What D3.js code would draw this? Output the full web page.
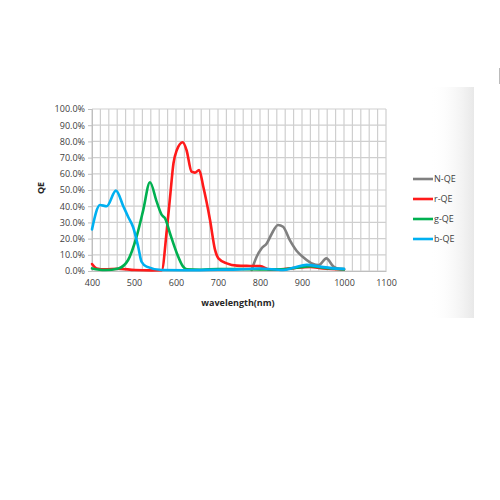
<!DOCTYPE html>
<html><head><meta charset="utf-8">
<script src="https://cdn.jsdelivr.net/npm/d3@7"></script>
<style>body{margin:0;background:#fff}svg{display:block}</style>
</head><body>
<svg id="c" width="500" height="500"></svg>
<script>
const seriesNames = ["N-QE","r-QE","g-QE","b-QE"];
const seriesColors = ["#808080","#ff1a1a","#00b050","#00b0f0"];
const xTicks = [400,500,600,700,800,900,1000,1100];
const yTicks = [0,10,20,30,40,50,60,70,80,90,100];

const nWl = [780,792,804,816,828,843,855,871,887,903,925,940,958,975,990,1000];
const nQE = [0.6,8.8,14,17,23,28.4,27.3,19,12.5,8.5,4.5,3.7,7.8,2.7,1.3,1.2];

const rWl = [400,411,431,463,502,542,566,578,586,594,602,616,625,637,645,655,665,681,693,701,721,745,776,800,824,850,880,920,950,1000];
const rQE = [4.3,1.6,1.0,1.4,0.6,0.4,0.5,25,46,66.5,74.7,79.5,74.7,61.3,60.7,62.3,52,31.5,13,7.8,4.7,3.3,3.1,3.0,0.8,1.0,1.8,2.5,1.5,1.0];

const gWl = [400,431,463,486,506,522,538,554,566,574,586,602,617,626,660,700,750,800,850,900,920,950,1000];
const gQE = [1.6,0.6,1.6,6.8,21,37.6,54.8,42.8,34.6,32.5,23,11,2.7,1.0,0.8,1.2,1.2,1.0,1.0,2.5,3.0,2.0,1.0];

const bWl = [400,419,435,457,475,486,498,510,518,530,566,620,700,750,800,855,880,911,943,970,1000];
const bQE = [25.7,40.7,40,49.6,39.7,33.5,27,15,5.7,2.7,0.6,0.5,0.8,1.0,1.5,0.6,2,3.8,2.7,1.8,1.3];

const data = [
  {name:seriesNames[0], color:seriesColors[0], wl:nWl, v:nQE},
  {name:seriesNames[1], color:seriesColors[1], wl:rWl, v:rQE},
  {name:seriesNames[2], color:seriesColors[2], wl:gWl, v:gQE},
  {name:seriesNames[3], color:seriesColors[3], wl:bWl, v:bQE}
];

const svg = d3.select("#c");
const font = "'Open Sans', 'Liberation Sans', sans-serif";

// faint scan shading on right
const defs = svg.append("defs");
const grad = defs.append("linearGradient").attr("id","sh").attr("x1","0").attr("x2","1");
grad.append("stop").attr("offset","0").attr("stop-color","#fff").attr("stop-opacity",0);
grad.append("stop").attr("offset","1").attr("stop-color","#e8e8e8").attr("stop-opacity",1);
svg.append("rect").attr("x",430).attr("y",87).attr("width",44).attr("height",231).attr("fill","url(#sh)");
svg.append("line").attr("x1",499.5).attr("x2",499.5).attr("y1",68).attr("y2",84).attr("stroke","#bbb").attr("stroke-width",1);

const x = d3.scaleLinear().domain([400,1100]).range([92,386]);
const y = d3.scaleLinear().domain([0,100]).range([271,109]);

// grid
const g = svg.append("g");
g.selectAll("line.v").data(d3.range(400,1101,20)).join("line")
  .attr("x1",d=>x(d)).attr("x2",d=>x(d)).attr("y1",y(0)).attr("y2",y(100))
  .attr("stroke","#cfcfcf").attr("stroke-width",1.2);
g.selectAll("line.h").data(yTicks).join("line")
  .attr("x1",x(400)).attr("x2",x(1100)).attr("y1",d=>y(d)).attr("y2",d=>y(d))
  .attr("stroke","#cfcfcf").attr("stroke-width",1.2);

// axes
const yAxis = svg.append("g").attr("transform",`translate(${x(400)},0)`)
  .call(d3.axisLeft(y).tickValues(yTicks).tickFormat(d=>d.toFixed(1)+"%").tickSize(4).tickPadding(3));
yAxis.select(".domain").attr("stroke","#bfbfbf");
yAxis.selectAll(".tick line").attr("stroke","#bfbfbf");
yAxis.selectAll("text").attr("font-family",font).attr("font-size",9).attr("fill","#404040");

const xAxis = svg.append("g").attr("transform",`translate(0,${y(0)})`)
  .call(d3.axisBottom(x).tickValues(xTicks).tickFormat(d3.format("d")).tickSize(0).tickPadding(9));
xAxis.select(".domain").attr("stroke","#bfbfbf");
xAxis.selectAll("text").attr("font-family",font).attr("font-size",9).attr("fill","#404040");

svg.append("text").attr("x",238).attr("y",306).attr("text-anchor","middle")
  .attr("font-family",font).attr("font-size",9).attr("font-weight","bold").attr("fill","#262626")
  .text("wavelength(nm)");
svg.append("text").attr("transform","translate(44,188) rotate(-90)").attr("text-anchor","middle")
  .attr("font-family",font).attr("font-size",9).attr("font-weight","bold").attr("fill","#262626")
  .text("QE");

// lines
const line = d3.line().x(d=>x(d[0])).y(d=>y(d[1])).curve(d3.curveMonotoneX);
svg.append("g").selectAll("path").data(data).join("path")
  .attr("d",s=>line(s.wl.map((w,i)=>[w,s.v[i]])))
  .attr("fill","none").attr("stroke",s=>s.color).attr("stroke-width",2.6)
  .attr("stroke-linejoin","round").attr("stroke-linecap","round");

// legend
const lg = svg.append("g").selectAll("g").data(data).join("g")
  .attr("transform",(d,i)=>`translate(413,${179+i*20})`);
lg.append("line").attr("x1",0).attr("x2",20).attr("stroke",d=>d.color).attr("stroke-width",2.6);
lg.append("text").attr("x",21).attr("dy","0.35em").attr("font-family",font).attr("font-size",9)
  .attr("fill","#404040").text(d=>d.name);
</script>
</body></html>
